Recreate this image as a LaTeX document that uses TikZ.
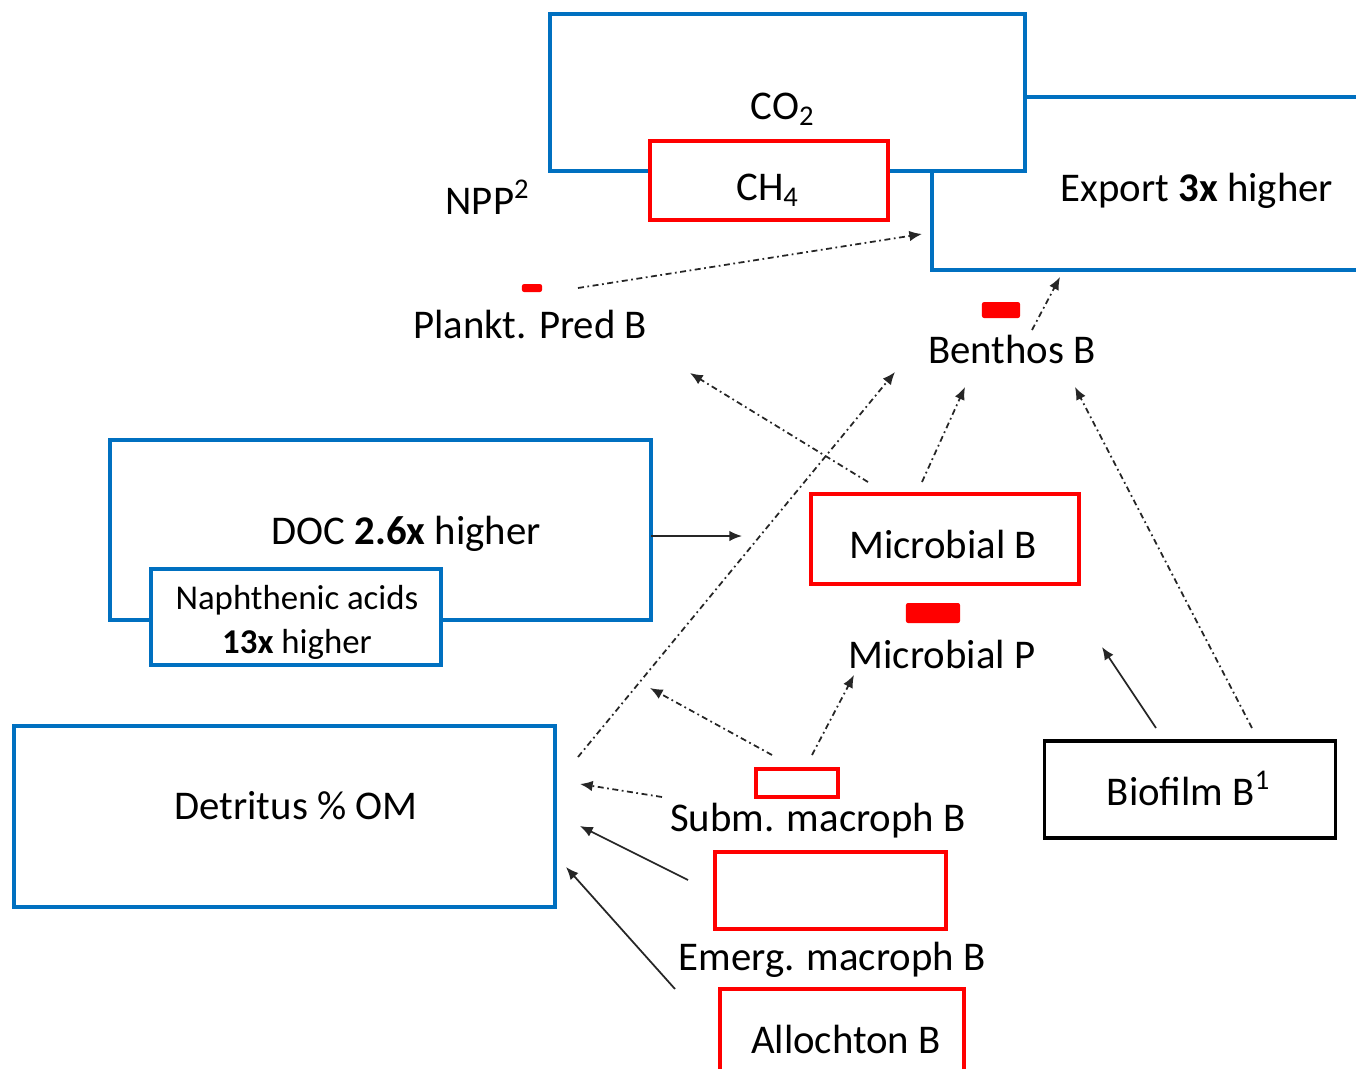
\documentclass[tikz,border=0pt]{standalone}
\usepackage{fontspec}
\setmainfont{Carlito}
\usetikzlibrary{arrows.meta}
\definecolor{boxblue}{RGB}{0,112,192}
\definecolor{boxred}{RGB}{255,0,0}

\begin{document}
\begin{tikzpicture}[x=0.01cm,y=-0.01cm,
  every node/.append style={inner sep=0pt,outer sep=0pt},
  bluebox/.style={draw=boxblue,line width=1pt,fill=white},
  redbox/.style={draw=boxred,line width=0.9pt,fill=white},
  blackbox/.style={draw=black,line width=0.9pt,fill=white},
  redbar/.style={fill=boxred,rounded corners=0.6pt},
  lbl/.style={anchor=base,font=\fontsize{11.6}{14}\selectfont},
  lblsmall/.style={anchor=base,font=\fontsize{9.9}{11}\selectfont},
  flow/.style={-{Latex[length=3.6pt,width=3pt]},line width=0.5pt,black!85},
  flux/.style={flow,dash pattern=on 1.7pt off 1pt on 0.5pt off 1pt}]
\useasboundingbox (0,0) rectangle (1356,1069);

% boxes
\node[bluebox,minimum width=4.40cm,minimum height=1.73cm] (exportbox) at (1152,183.5) {};
\node[bluebox,minimum width=4.75cm,minimum height=1.57cm] (co2box) at (787.5,92.5) {};
\node[redbox,minimum width=2.38cm,minimum height=0.79cm] (ch4box) at (769,180.5) {};
\node[bluebox,minimum width=5.41cm,minimum height=1.80cm] (docbox) at (380.5,530) {};
\node[bluebox,minimum width=2.90cm,minimum height=0.96cm] (naphbox) at (296,617) {};
\node[redbox,minimum width=2.68cm,minimum height=0.90cm] (mbbox) at (945,539) {};
\node[bluebox,minimum width=5.41cm,minimum height=1.81cm] (detbox) at (284.5,816.5) {};
\node[redbox,minimum width=0.82cm,minimum height=0.28cm] (submbox) at (797,783) {};
\node[redbox,minimum width=2.31cm,minimum height=0.77cm] (emergbox) at (830.5,890.5) {};
\node[redbox,minimum width=2.44cm,minimum height=0.91cm] (allobox) at (842,1034.5) {};
\node[blackbox,minimum width=2.90cm,minimum height=0.97cm] (biobox) at (1190,789.5) {};

% small bars
\node[redbar,minimum width=0.20cm,minimum height=0.08cm] (planktbar) at (532,288) {};
\node[redbar,minimum width=0.38cm,minimum height=0.16cm] (benthosbar) at (1001,310) {};
\node[redbar,minimum width=0.54cm,minimum height=0.20cm] (mpbar) at (933,613) {};

% labels
\node[lbl] (co2) at (783,119) {CO\textsubscript{2}};
\node[lbl] (ch4) at (768,200) {CH\textsubscript{4}};
\node[lbl] (npp) at (488,214) {NPP\textsuperscript{2}};
\node[lbl] (export) at (1197,201) {Export \textbf{3x} higher};
\node[lbl] (plankt) at (530,338) {Plankt. Pred B};
\node[lbl] (benthos) at (1012,363) {Benthos B};
\node[lbl] (doc) at (406,544) {DOC \textbf{2.6x} higher};
\node[lblsmall] (naph) at (297,609) {Naphthenic acids};
\node[lblsmall] (naphx) at (297,653) {\textbf{13x} higher};
\node[lbl] (microb) at (943,558) {Microbial B};
\node[lbl] (microp) at (942,668) {Microbial P};
\node[lbl] (detritus) at (296,819) {Detritus \% OM};
\node[lbl] (subm) at (818,831) {Subm. macroph B};
\node[lbl] (emerg) at (832,970) {Emerg. macroph B};
\node[lbl] (allo) at (846,1053) {Allochton B};
\node[lbl] (biofilm) at (1189,805) {Biofilm B\textsuperscript{1}};

% arrow ends
\coordinate (pl-out) at (578,288);
\coordinate (ex-in1) at (922,234);
\coordinate (be-out) at (1032,330);
\coordinate (ex-in2) at (1060,277);
\coordinate (mb-out1) at (868,482);
\coordinate (pl-in) at (690,373);
\coordinate (mb-out2) at (922,482);
\coordinate (be-in1) at (965,387);
\coordinate (de-out) at (578,757);
\coordinate (be-in2) at (895,372);
\coordinate (bf-out1) at (1252,728);
\coordinate (be-in3) at (1075,387);
\coordinate (bf-out2) at (1156,728);
\coordinate (mp-in1) at (1102,647);
\coordinate (doc-out) at (651,536);
\coordinate (mb-in) at (742,536);
\coordinate (sm-out1) at (772,755);
\coordinate (sm-tip) at (650,688);
\coordinate (sm-out2) at (812,755);
\coordinate (mp-in2) at (854,675);
\coordinate (sm-out3) at (662,797);
\coordinate (de-in1) at (580,784);
\coordinate (em-out) at (688,880);
\coordinate (de-in2) at (580,826);
\coordinate (al-out) at (675,989);
\coordinate (de-in3) at (566,867);

% flows
\draw[flux] (pl-out) -- (ex-in1);
\draw[flux] (be-out) -- (ex-in2);
\draw[flux] (mb-out1) -- (pl-in);
\draw[flux] (mb-out2) -- (be-in1);
\draw[flux] (de-out) -- (be-in2);
\draw[flux] (bf-out1) -- (be-in3);
\draw[flow] (bf-out2) -- (mp-in1);
\draw[flow] (doc-out) -- (mb-in);
\draw[flux] (sm-out1) -- (sm-tip);
\draw[flux] (sm-out2) -- (mp-in2);
\draw[flux] (sm-out3) -- (de-in1);
\draw[flow] (em-out) -- (de-in2);
\draw[flow] (al-out) -- (de-in3);
\end{tikzpicture}
\end{document}
